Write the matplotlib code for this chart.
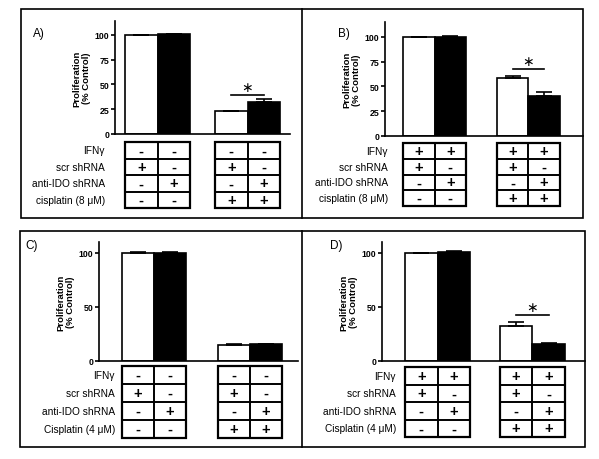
import matplotlib

matplotlib.use("Agg")

import matplotlib.pyplot as plt
from matplotlib.patches import Rectangle

plt.rcParams["font.family"] = ["Liberation Sans", "DejaVu Sans"]

# bar values (% control), order: [no drug, with drug]
white_a = [100, 23]
black_a = [100.5, 32.3]
white_a_err = [0.3, 0.7]
black_a_err = [0.5, 3.0]

white_b = [100, 58.6]
black_b = [100.3, 40.8]
white_b_err = [0.3, 2.0]
black_b_err = [0.4, 3.5]

white_c = [100, 15.1]
black_c = [100.2, 15.7]
white_c_err = [0.3, 0.2]
black_c_err = [0.4, 0.3]

white_d = [100, 32.7]
black_d = [100.3, 15.7]
white_d_err = [0.2, 3.0]
black_d_err = [1.5, 1.2]

sig_a = 39.5
sig_b = 67.7
sig_d = 42.6

# treatment table, columns: white, black, white, black
ifng_off = ["-", "-", "-", "-"]
ifng_on = ["+", "+", "+", "+"]
scr_shrna = ["+", "-", "+", "-"]
anti_ido = ["-", "+", "-", "+"]
drug = ["-", "-", "+", "+"]

labels_8 = ["IFN\u03b3", "scr shRNA", "anti-IDO shRNA", "cisplatin (8 \u03bcM)"]
labels_4 = ["IFN\u03b3", "scr shRNA", "anti-IDO shRNA", "Cisplatin (4 \u03bcM)"]

yticks_ab = [0, 25, 50, 75, 100]
yticks_cd = [0, 50, 100]

W, H = 599, 460
fig = plt.figure(figsize=(W / 100, H / 100), dpi=100)


def px_axes(left, right, top, bottom):
    return fig.add_axes([left / W, 1 - bottom / H, (right - left) / W, (bottom - top) / H])


def draw_panel(tag, white, black, werr, berr, rows, labels, yticks, sig, lay):
    left, right = lay["axis_x"]
    blk, cw, step = lay["block_left"], lay["cw"], lay["step"]
    xlim = (-0.5 - (blk - left) / cw, -0.5 + (right - blk) / cw)
    pos = [0, 1, step, step + 1]

    ax = px_axes(left, right, lay["axis_top"], lay["axis_y0"])
    vals = [white[0], black[0], white[1], black[1]]
    errs = [werr[0], berr[0], werr[1], berr[1]]
    colors = ["white", "black", "white", "black"]
    ax.bar(pos, vals, width=1.0, color=colors, edgecolor="black", linewidth=1.2,
           yerr=[[0] * 4, errs], capsize=5.5, error_kw=dict(elinewidth=1.2, capthick=1.2),
           zorder=2)
    ax.set_xlim(*xlim)
    ax.set_ylim(0, lay["ymax"])
    ax.set_yticks(yticks)
    ax.set_yticklabels([str(t) for t in yticks], fontsize=6.3, fontweight="bold")
    ax.tick_params(axis="y", length=3, width=1.2, pad=1)
    ax.set_xticks([])
    for side in ["top", "right"]:
        ax.spines[side].set_visible(False)
    for side in ["left", "bottom"]:
        ax.spines[side].set_linewidth(1.2)
    ax.set_ylabel("Proliferation\n(% Control)", fontsize=6.8, fontweight="bold",
                  labelpad=lay["labelpad"], linespacing=1.0)

    if sig is not None:
        ax.plot([pos[2], pos[3]], [sig, sig], color="black", lw=1.2, clip_on=False)
        ax.annotate("\u2217", (0.5 * (pos[2] + pos[3]), sig), xytext=(0, 6),
                    textcoords="offset points", ha="center", va="center",
                    fontsize=10, family="DejaVu Sans")

    # treatment table
    tx = px_axes(left, right, lay["table_top"], lay["table_bottom"])
    tx.set_xlim(*xlim)
    tx.set_ylim(len(rows), 0)
    tx.axis("off")
    for r, row in enumerate(rows):
        for c, sym in enumerate(row):
            tx.add_patch(Rectangle((pos[c] - 0.5, r), 1, 1, fill=False,
                                   edgecolor="black", lw=1.2, clip_on=False))
            tx.text(pos[c], r + 0.5, sym, ha="center", va="center",
                    fontsize=10.5, fontweight="bold")
        tx.text(-0.5 - lay["label_gap"] / cw, r + 0.5, labels[r], ha="right",
                va="center", fontsize=7.3)
    for start in (pos[0], pos[2]):
        tx.add_patch(Rectangle((start - 0.5, 0), 2, len(rows), fill=False,
                               edgecolor="black", lw=1.6, clip_on=False))

    fig.text(lay["tag_xy"][0] / W, 1 - lay["tag_xy"][1] / H, tag, fontsize=8.5,
             ha="left", va="center")


layout_a = dict(axis_x=(115, 290), axis_top=22, axis_y0=135, ymax=114,
                block_left=125, cw=32.5, step=2.77, table_top=143, table_bottom=209,
                label_gap=20, labelpad=3, tag_xy=(33, 34))
layout_b = dict(axis_x=(385, 583), axis_top=23, axis_y0=137, ymax=115,
                block_left=403, cw=31.5, step=2.98, table_top=144, table_bottom=207,
                label_gap=15, labelpad=3, tag_xy=(338, 34))
layout_c = dict(axis_x=(99, 298), axis_top=243, axis_y0=362, ymax=110,
                block_left=122, cw=32, step=3.0, table_top=367, table_bottom=439,
                label_gap=7, labelpad=3, tag_xy=(25, 246))
layout_d = dict(axis_x=(382, 585), axis_top=243, axis_y0=362, ymax=110,
                block_left=405, cw=32.5, step=2.92, table_top=368, table_bottom=438,
                label_gap=9, labelpad=3, tag_xy=(330, 246))

rows_off = [ifng_off, scr_shrna, anti_ido, drug]
rows_on = [ifng_on, scr_shrna, anti_ido, drug]

draw_panel("A)", white_a, black_a, white_a_err, black_a_err, rows_off, labels_8,
           yticks_ab, sig_a, layout_a)
draw_panel("B)", white_b, black_b, white_b_err, black_b_err, rows_on, labels_8,
           yticks_ab, sig_b, layout_b)
draw_panel("C)", white_c, black_c, white_c_err, black_c_err, rows_off, labels_4,
           yticks_cd, None, layout_c)
draw_panel("D)", white_d, black_d, white_d_err, black_d_err, rows_on, labels_4,
           yticks_cd, sig_d, layout_d)

# panel frames
for (x0, x1, y0, y1, xm) in [(21, 583, 10, 219, 302), (20, 585, 232, 448, 302)]:
    fig.add_artist(Rectangle((x0 / W, 1 - y1 / H), (x1 - x0) / W, (y1 - y0) / H,
                             fill=False, edgecolor="black", lw=1.2,
                             transform=fig.transFigure))
    fig.add_artist(plt.Line2D([xm / W, xm / W], [1 - y1 / H, 1 - y0 / H],
                              color="black", lw=1.2, transform=fig.transFigure))

fig.savefig("out.png", dpi=100)
